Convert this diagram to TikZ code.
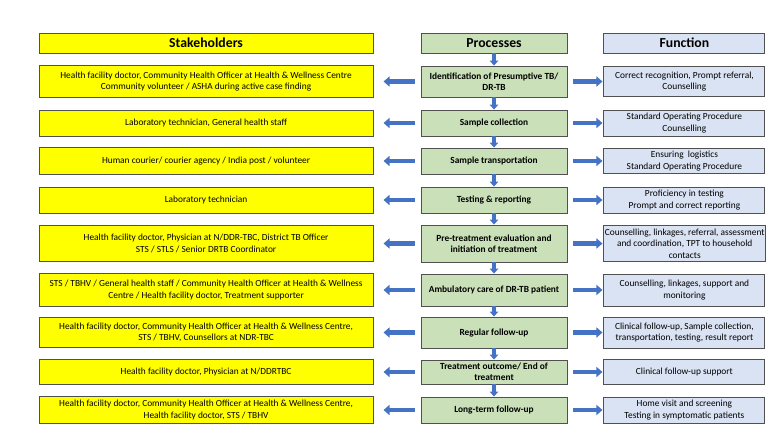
\documentclass[tikz,border=0pt]{standalone}
\usepackage{fontspec}
\setmainfont{Carlito}
\usetikzlibrary{positioning}
\usetikzlibrary{arrows.meta}

\definecolor{stakeyellow}{HTML}{FFFF00}
\definecolor{procgreen}{HTML}{C9E0B8}
\definecolor{funcblue}{HTML}{DAE3F3}
\definecolor{arrowblue}{HTML}{4472C4}
\definecolor{boxline}{HTML}{505050}

\tikzset{
  box/.style={draw=boxline,line width=0.9bp,inner sep=1bp,align=center,
    font=\fontsize{9.4}{11.5}\selectfont},
  stake/.style={box,fill=stakeyellow,minimum width=334bp},
  proc/.style={box,fill=procgreen,minimum width=146bp,
    font=\fontsize{9.4}{11.5}\selectfont\bfseries},
  func/.style={box,fill=funcblue,minimum width=161bp},
  head/.style={minimum height=20bp,font=\fontsize{13.8}{15}\selectfont\bfseries},
  sidearrow/.style={arrowblue,line width=4.5bp,-{Triangle[length=6bp,width=10bp]}},
  downarrow/.style={arrowblue,line width=3.5bp,-{Triangle[length=5bp,width=8.5bp]}}
}

\begin{document}
\begin{tikzpicture}[x=1bp,y=-1bp]
  \useasboundingbox (0,0) rectangle (768,431);

  % processes, down the middle
  \node[proc,head] (ph) at (494,43) {Processes};
  \node[proc,minimum height=31bp] (p1) at (494,81.5) {Identification of Presumptive TB/\\DR-TB};
  \node[proc,minimum height=26bp] (p2) at (494,123) {Sample collection};
  \node[proc,minimum height=26bp] (p3) at (494,161) {Sample transportation};
  \node[proc,minimum height=26bp] (p4) at (494,200) {Testing \& reporting};
  \node[proc,minimum height=37bp] (p5) at (494,243.5) {Pre-treatment evaluation and\\initiation of treatment};
  \node[proc,minimum height=32bp] (p6) at (494,290) {Ambulatory care of DR-TB patient};
  \node[proc,minimum height=31bp] (p7) at (494,332.5) {Regular follow-up};
  \node[proc,minimum height=24bp,inner sep=0pt] (p8) at (494,372) {Treatment outcome/ End of\\treatment};
  \node[proc,minimum height=26bp] (p9) at (494,410) {Long-term follow-up};

  % stakeholders
  \node[stake,head,left=47bp of ph] (sh) {Stakeholders};
  \node[stake,minimum height=32bp,left=47bp of p1] (s1) {Health facility doctor, Community Health Officer at Health \& Wellness Centre\\Community volunteer / ASHA during active case finding};
  \node[stake,minimum height=26bp,left=47bp of p2] (s2) {Laboratory technician, General health staff};
  \node[stake,minimum height=27bp,left=47bp of p3] (s3) {Human courier/ courier agency / India post / volunteer};
  \node[stake,minimum height=26bp,left=47bp of p4] (s4) {Laboratory technician};
  \node[stake,minimum height=36bp,left=47bp of p5] (s5) {Health facility doctor, Physician at N/DDR-TBC, District TB Officer\\STS / STLS / Senior DRTB Coordinator};
  \node[stake,minimum height=33bp,left=47bp of p6] (s6) {STS / TBHV / General health staff / Community Health Officer at Health \& Wellness\\Centre / Health facility doctor, Treatment supporter};
  \node[stake,minimum height=30bp,left=47bp of p7] (s7) {Health facility doctor, Community Health Officer at Health \& Wellness Centre,\\STS / TBHV, Counsellors at NDR-TBC};
  \node[stake,minimum height=25bp,left=47bp of p8] (s8) {Health facility doctor, Physician at N/DDRTBC};
  \node[stake,minimum height=27bp,left=47bp of p9] (s9) {Health facility doctor, Community Health Officer at Health \& Wellness Centre,\\Health facility doctor, STS / TBHV};

  % functions
  \node[func,head,right=36bp of ph] (fh) {Function};
  \node[func,minimum height=30bp,right=36bp of p1] (f1) {Correct recognition, Prompt referral,\\Counselling};
  \node[func,minimum height=26bp,right=36bp of p2] (f2) {Standard Operating Procedure\\Counselling};
  \node[func,minimum height=25bp,right=36bp of p3] (f3) {Ensuring~ logistics\\Standard Operating Procedure};
  \node[func,minimum height=26bp,right=36bp of p4] (f4) {Proficiency in testing\\Prompt and correct reporting};
  \node[func,minimum height=36bp,right=36bp of p5] (f5) {Counselling, linkages, referral, assessment\\and coordination, TPT to household\\contacts};
  \node[func,minimum height=32bp,right=36bp of p6] (f6) {Counselling, linkages, support and\\monitoring};
  \node[func,minimum height=31bp,right=36bp of p7] (f7) {Clinical follow-up, Sample collection,\\transportation, testing, result report};
  \node[func,minimum height=25bp,right=36bp of p8] (f8) {Clinical follow-up support};
  \node[func,minimum height=26bp,right=36bp of p9] (f9) {Home visit and screening\\Testing in symptomatic patients};

  % arrows
  \draw[downarrow](ph)--(p1);
  \draw[downarrow](p1)--(p2);
  \draw[downarrow](p2)--(p3);
  \draw[downarrow](p3)--(p4);
  \draw[downarrow](p4)--(p5);
  \draw[downarrow](p5)--(p6);
  \draw[downarrow](p6)--(p7);
  \draw[downarrow](p7)--(p8);
  \draw[downarrow](p8)--(p9);
  \foreach \i in {1,...,9}{
    \draw[sidearrow,shorten <=6bp,shorten >=10bp](p\i)--(s\i);
    \draw[sidearrow,shorten <=6bp,shorten >=1bp](p\i)--(f\i);
  }
\end{tikzpicture}
\end{document}
